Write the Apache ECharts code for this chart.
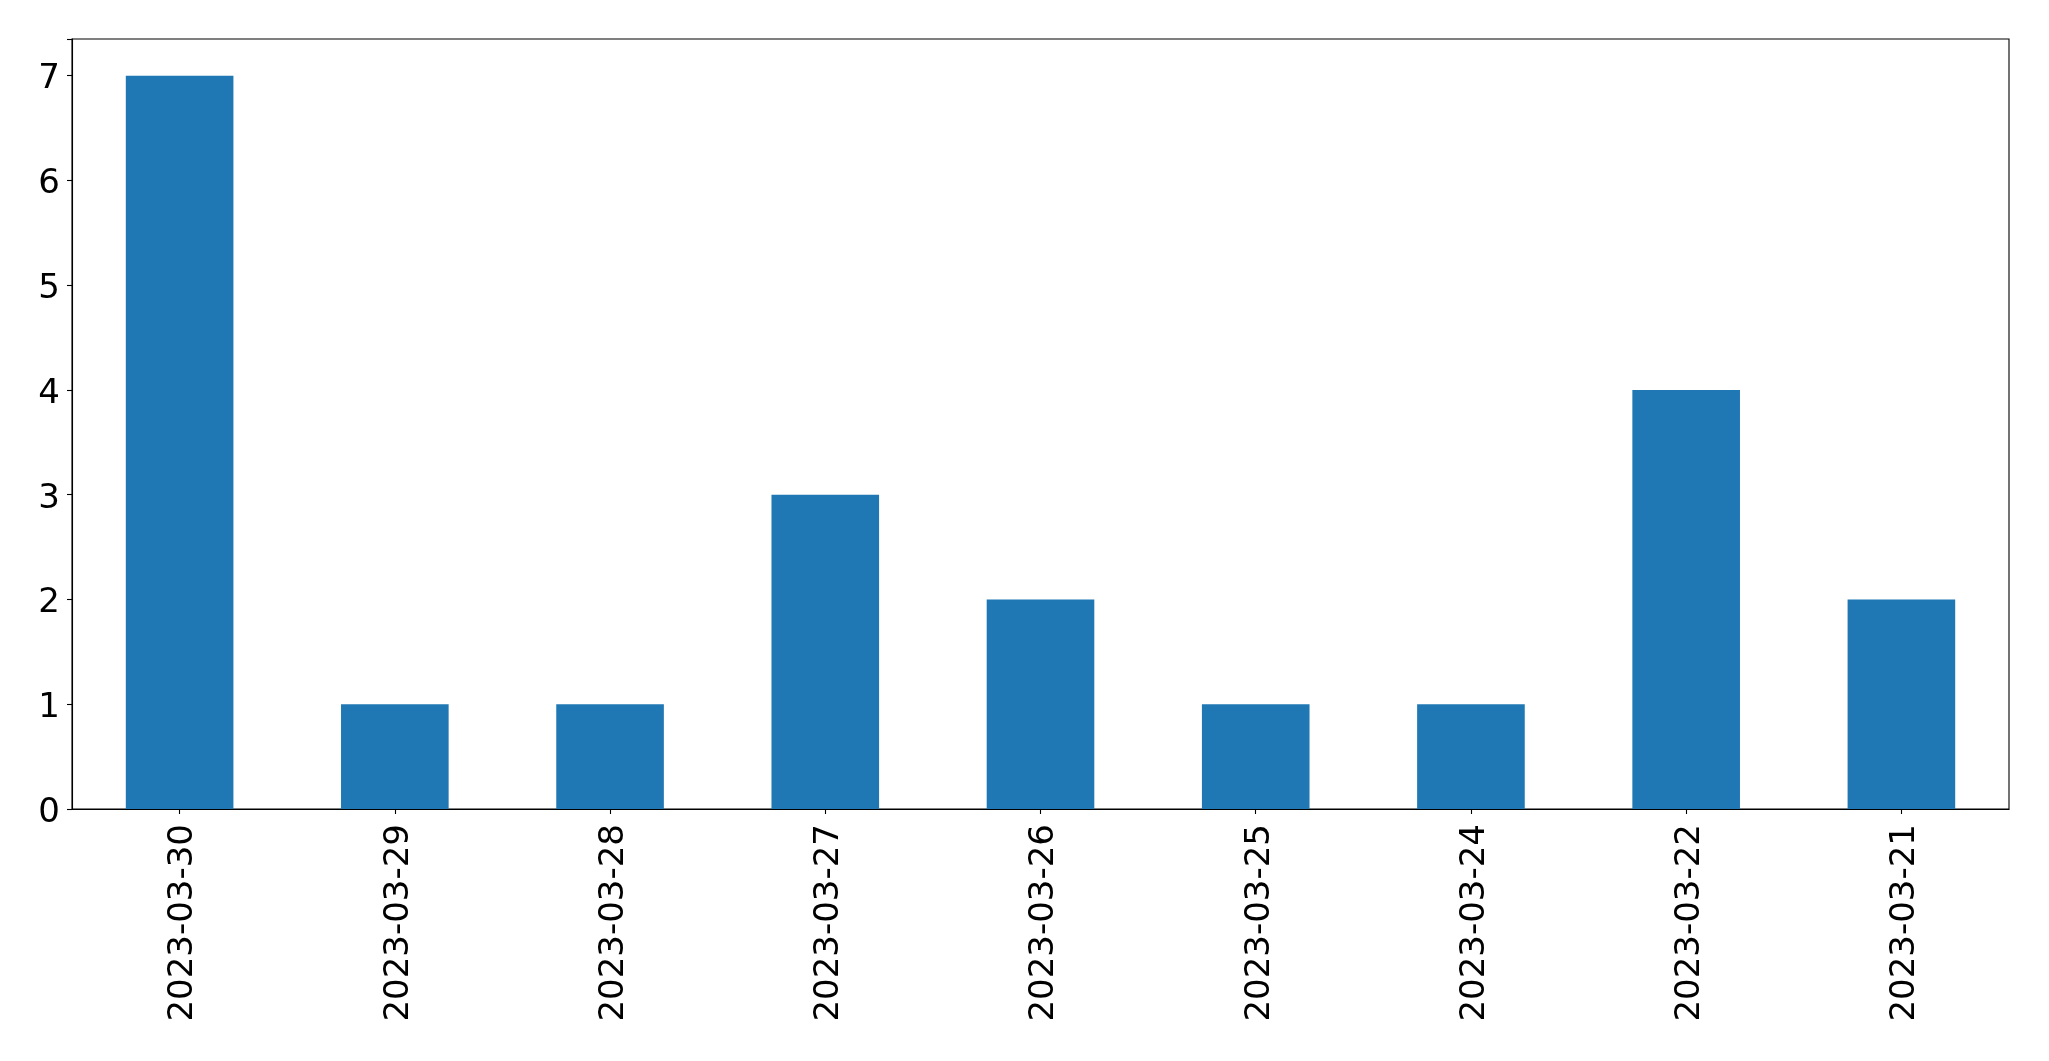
<!DOCTYPE html>
<html>
<head>
<meta charset="utf-8">
<script src="https://cdn.jsdelivr.net/npm/echarts@6/dist/echarts.min.js"></script>
<style>
html,body{margin:0;padding:0;background:#fff;}
#chart{width:2049px;height:1061px;}
</style>
</head>
<body>
<div id="chart"></div>
<script>
const categories = ["2023-03-30","2023-03-29","2023-03-28","2023-03-27","2023-03-26","2023-03-25","2023-03-24","2023-03-22","2023-03-21"];
const values = [7,1,1,3,2,1,1,4,2];
const yTicks = [0,1,2,3,4,5,6,7];

const chart = echarts.init(document.getElementById('chart'), null, {renderer:'canvas'});
const font = 'DejaVu Sans';
const richA = {a:{fontFamily:font,fontSize:34,color:'#000',padding:[8,0,0,0]}};
chart.setOption({
  animation:false,
  backgroundColor:'#ffffff',
  grid:{left:72,top:39,right:40,bottom:252,show:true,borderColor:'#000',borderWidth:1.1,backgroundColor:'transparent',containLabel:false},
  xAxis:{
    type:'category',
    data:categories,
    boundaryGap:true,
    axisLine:{show:true,lineStyle:{color:'#000',width:1.1}},
    axisTick:{show:true,alignWithLabel:true,length:5,lineStyle:{color:'#000',width:1.1}},
    axisLabel:{rotate:90,fontFamily:font,fontSize:34,color:'#000',margin:15,interval:0,
      formatter:function(v){return '{a|'+v+'}';},rich:richA},
    splitLine:{show:false}
  },
  yAxis:{
    type:'value',
    min:0,
    max:7.35,
    interval:1,
    axisLine:{show:true,lineStyle:{color:'#000',width:1.1}},
    axisTick:{show:true,length:5,lineStyle:{color:'#000',width:1.1}},
    axisLabel:{fontFamily:font,fontSize:34,color:'#000',margin:12,rich:richA,
      formatter:function(v){return yTicks.indexOf(v)>=0?'{a|'+v+'}':'';}},
    splitLine:{show:false}
  },
  series:[{
    type:'bar',
    data:values,
    barWidth:'50%',
    itemStyle:{color:'#1f77b4'}
  }]
});
</script>
</body>
</html>
